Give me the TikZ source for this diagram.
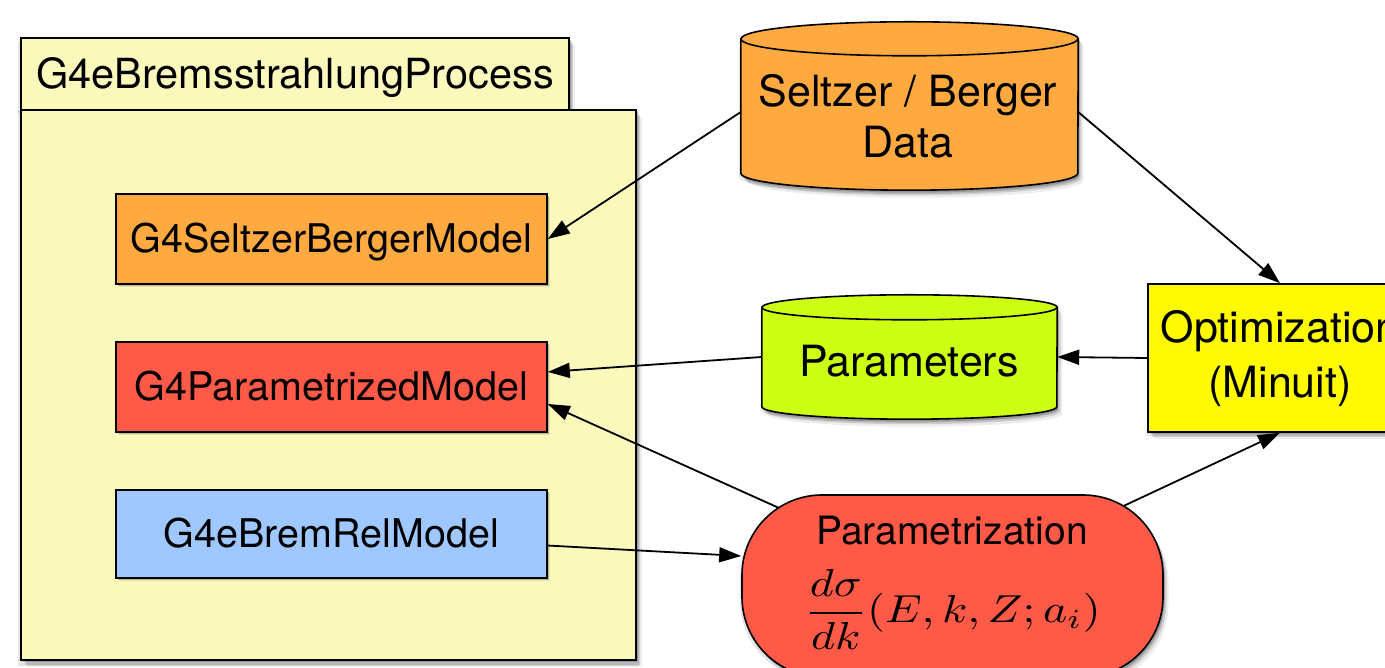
\documentclass[tikz,border=0pt]{standalone}
\usepackage{fontspec}
\setmainfont{TeX Gyre Heros}
\usepackage{graphicx}
\usetikzlibrary{shadows,arrows.meta,calc}
\definecolor{pkgyellow}{RGB}{251,248,188}
\definecolor{sborange}{RGB}{255,170,64}
\definecolor{pmred}{RGB}{255,90,72}
\definecolor{brblue}{RGB}{158,200,255}
\definecolor{parlime}{RGB}{204,255,20}
\definecolor{optyellow}{RGB}{255,250,0}
\pgfdeclarelayer{back}
\pgfdeclarelayer{conn}
\pgfsetlayers{back,conn,main}
\begin{document}
\begin{tikzpicture}[x=1pt,y=1pt,
  shad/.style={drop shadow={shadow xshift=0pt,shadow yshift=-3pt,shadow scale=1.01,opacity=.10,fill=black},
               drop shadow={shadow xshift=1.5pt,shadow yshift=-2.5pt,opacity=.18,fill=black},
               drop shadow={shadow xshift=3.5pt,shadow yshift=-5pt,opacity=.13,fill=black},
               drop shadow={shadow xshift=5.5pt,shadow yshift=-7.5pt,opacity=.07,fill=black}},
  smallshad/.style={drop shadow={shadow xshift=1.5pt,shadow yshift=-2pt,opacity=.2,fill=black},
                    drop shadow={shadow xshift=3pt,shadow yshift=-3.5pt,opacity=.08,fill=black}},
  box/.style={draw=black,line width=1.6pt,inner sep=0pt},
  model/.style={box,smallshad,minimum width=431pt,minimum height=90pt,text height=28pt,text depth=0pt,font=\fontsize{39.5}{46}\selectfont},
  bigtxt/.style={font=\fontsize{43}{50}\selectfont,anchor=base,inner sep=0pt},
  conn/.style={line width=1.8pt,-{Triangle[length=22pt,width=15pt]}},
  cylfill/.style={draw=black,line width=1.6pt,shad}
]
\useasboundingbox (0,0) rectangle (1385,668);
% package
\begin{pgfonlayer}{back}
\node[box,shad,fill=pkgyellow,minimum width=548pt,minimum height=72pt,text height=30pt,text depth=0pt,font=\fontsize{41.5}{48}\selectfont] (tab) at (295,594) {G4eBremsstrahlungProcess};
\node[box,shad,fill=pkgyellow,minimum width=615pt,minimum height=550pt] (pkg) at (328.5,283) {};
\end{pgfonlayer}
% models
\node[model,fill=sborange] (sb) at (331.5,429) {G4SeltzerBergerModel};
\node[model,fill=pmred] (pm) at (331.5,281) {G4ParametrizedModel};
\node[model,fill=brblue,minimum height=88pt] (br) at (331.5,134) {G4eBremRelModel};
% Seltzer / Berger data cylinder
\node[minimum width=337pt,minimum height=168pt,inner sep=0pt] (selt) at (909.5,562) {};
\path[cylfill,fill=sborange] ($(selt.north west)+(0,-17)$) -- ($(selt.south west)+(0,17)$)
  arc[start angle=180,end angle=360,x radius=168.5,y radius=17]
  -- ($(selt.north east)+(0,-17)$)
  arc[start angle=0,end angle=180,x radius=168.5,y radius=17] -- cycle;
\draw[line width=1.6pt] ($(selt.north west)+(0,-17)$) arc[start angle=180,end angle=360,x radius=168.5,y radius=17];
\node[bigtxt] (seltA) at (908,561) {Seltzer / Berger};
\node[bigtxt] (seltB) at (908,510) {Data};
% Parameters cylinder
\node[minimum width=295pt,minimum height=124pt,inner sep=0pt] (params) at (909.5,311) {};
\path[cylfill,fill=parlime] ($(params.north west)+(0,-12.5)$) -- ($(params.south west)+(0,12.5)$)
  arc[start angle=180,end angle=360,x radius=147.5,y radius=12.5]
  -- ($(params.north east)+(0,-12.5)$)
  arc[start angle=0,end angle=180,x radius=147.5,y radius=12.5] -- cycle;
\draw[line width=1.6pt] ($(params.north west)+(0,-12.5)$) arc[start angle=180,end angle=360,x radius=147.5,y radius=12.5];
\node[bigtxt] (paramsA) at (909,291) {Parameters};
% Optimization
\node[box,shad,fill=optyellow,minimum width=264pt,minimum height=148pt] (optim) at (1280,310) {};
\node[bigtxt] (optA) at (1280,325) {Optimization};
\node[bigtxt] (optB) at (1280,270) {(Minuit)};
% Parametrization
\node[box,shad,fill=pmred,rounded corners=80pt,minimum width=421pt,minimum height=182pt] (param) at (952.5,82) {};
\node[font=\fontsize{39}{46}\selectfont,anchor=base,inner sep=0pt] (paramA) at (952,123) {Parametrization};
\node[anchor=base,inner sep=0pt] (paramB) at (952.5,45.25) {\scalebox{4.6}[3.9]{$\displaystyle\frac{d\sigma}{dk}(E,k,Z;a_i)$}};
% connectors
\begin{pgfonlayer}{conn}
\draw[conn] ($(selt.west)+(0,-6)$) -- (sb.east);
\draw[conn] ($(selt.east)+(0,-6)$) -- (optim.north);
\draw[conn] (optim.west) -- (params.east);
\draw[conn] (params.west) -- (pm);
\draw[conn] (param.center) -- ($(pm.east)+(0,-17)$);
\draw[conn] (br) -- ($(param.west)+(0,30)$);
\draw[conn] (param.center) -- (optim.south);
\end{pgfonlayer}
\end{tikzpicture}
\end{document}
